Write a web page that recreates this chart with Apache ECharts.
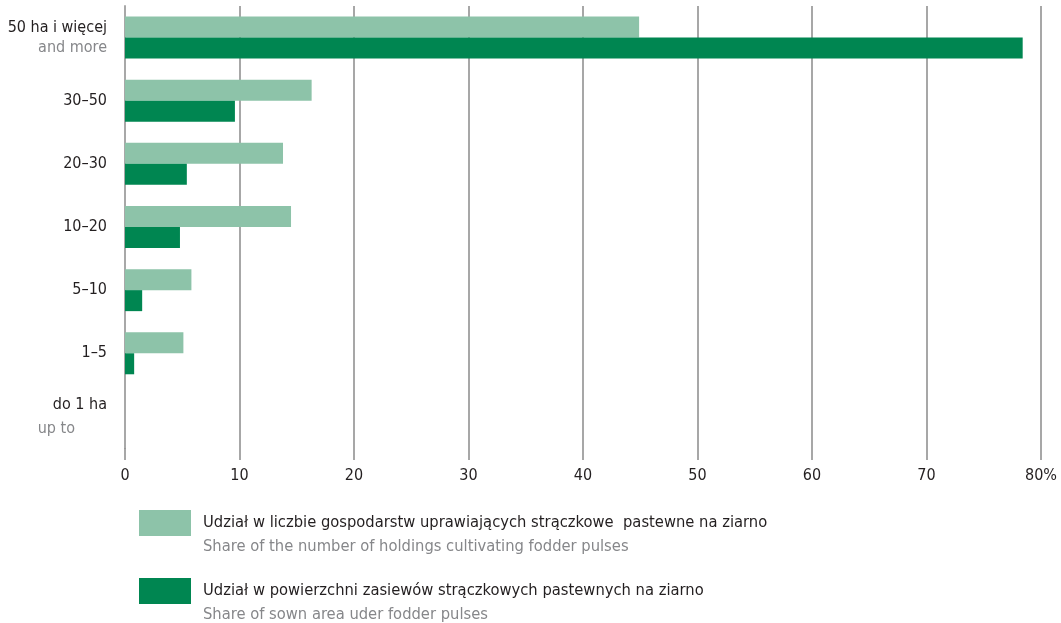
<!DOCTYPE html>
<html>
<head>
<meta charset="utf-8">
<script src="https://cdn.jsdelivr.net/npm/echarts@6/dist/echarts.min.js"></script>
<style>
  html, body { margin: 0; padding: 0; background: #fff; }
  #chart { width: 1061px; height: 623px; }
</style>
</head>
<body>
<div id="chart"></div>
<script>
// categories, top to bottom
const categoriesPl = ['50 ha i więcej', '30–50', '20–30', '10–20', '5–10', '1–5', 'do 1 ha']
const categoriesEn = ['and more', '', '', '', '', '', 'up to']

const seriesNamesPl = [
  'Udział w liczbie gospodarstw uprawiających strączkowe  pastewne na ziarno',
  'Udział w powierzchni zasiewów strączkowych pastewnych na ziarno'
]
const seriesNamesEn = [
  'Share of the number of holdings cultivating fodder pulses',
  'Share of sown area uder fodder pulses'
]

const holdingsShare = [44.9, 16.3, 13.8, 14.5, 5.8, 5.1, 0]
const areaShare = [78.4, 9.6, 5.4, 4.8, 1.5, 0.8, 0]

const xTicks = [0, 10, 20, 30, 40, 50, 60, 70, 80]

const FONT = '"Liberation Sans Narrow", "DejaVu Sans Condensed", sans-serif'
const DARK = '#231f20'
const GREY = '#86878a'
const FS = 16

const chart = echarts.init(document.getElementById('chart'))

// one legend block per series so each can be placed on its own
function legendFor(i, top) {
  return {
    orient: 'vertical',
    left: 139,
    top: top,
    padding: 0,
    itemWidth: 52,
    itemHeight: 26,
    icon: 'rect',
    selectedMode: false,
    data: [seriesNamesPl[i]],
    formatter: function(name) {
      return '{a|' + name + '}\n{b|' + seriesNamesEn[i] + '}'
    },
    textStyle: {
      padding: [24, 0, 0, 7],
      rich: {
        a: { fontFamily: FONT, fontSize: 16.4, color: DARK, lineHeight: 24 },
        b: { fontFamily: FONT, fontSize: 16.4, color: GREY, lineHeight: 24 }
      }
    }
  }
}

chart.setOption({
  animation: false,
  grid: {
    left: 125,
    right: 20,
    top: 6,
    bottom: 175,
    containLabel: false
  },
  xAxis: {
    type: 'value',
    min: xTicks[0],
    max: xTicks[xTicks.length - 1],
    interval: 10,
    axisLine: { show: false },
    axisTick: {
      show: true,
      length: 12,
      lineStyle: { color: '#8a8a8a', width: 1.5 }
    },
    splitLine: {
      show: true,
      lineStyle: { color: '#8a8a8a', width: 1.5 }
    },
    axisLabel: {
      margin: 20,
      fontFamily: FONT,
      fontSize: FS,
      color: DARK,
      formatter: function(v) {
        return v === 80 ? v + '%' : String(v)
      }
    }
  },
  yAxis: {
    type: 'category',
    inverse: true,
    data: categoriesPl,
    axisLine: { show: true, lineStyle: { color: '#a8a8a8', width: 2 } },
    axisTick: { show: false },
    axisLabel: {
      margin: 18,
      align: 'right',
      formatter: function(v, i) {
        const en = categoriesEn[i]
        if (!en) return '{pl|' + v + '}'
        if (en === 'up to') return '{pl2|' + v + '}\n{enUp|' + en + '}'
        return '{pl|' + v + '}\n{en|' + en + '}'
      },
      rich: {
        pl: { fontFamily: FONT, fontSize: FS, color: DARK, lineHeight: 20 },
        pl2: { fontFamily: FONT, fontSize: FS, color: DARK, lineHeight: 24 },
        en: { fontFamily: FONT, fontSize: FS, color: GREY, lineHeight: 20 },
        enUp: { fontFamily: FONT, fontSize: FS, color: GREY, lineHeight: 24, padding: [0, 32, 0, 0] }
      }
    }
  },
  legend: [legendFor(0, 510), legendFor(1, 578)],
  series: [
    {
      name: seriesNamesPl[0],
      type: 'bar',
      data: holdingsShare,
      barWidth: 21,
      barGap: '0%',
      itemStyle: { color: '#8dc3a9' }
    },
    {
      name: seriesNamesPl[1],
      type: 'bar',
      data: areaShare,
      barWidth: 21,
      barGap: '0%',
      itemStyle: { color: '#008651' }
    }
  ]
})
</script>
</body>
</html>
